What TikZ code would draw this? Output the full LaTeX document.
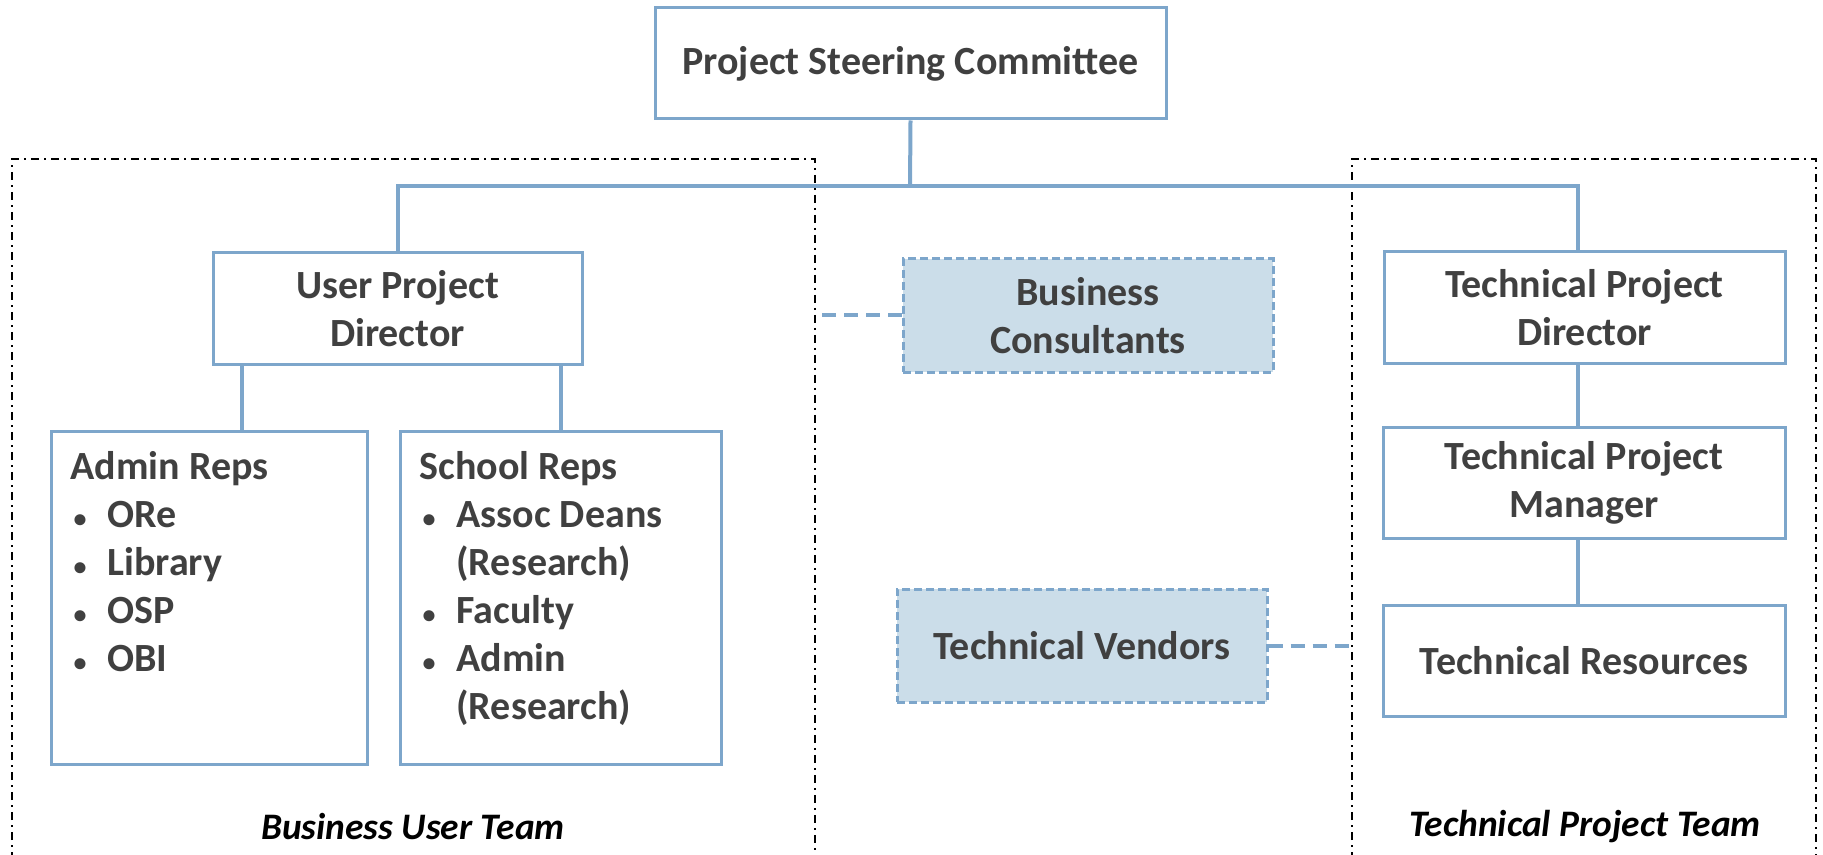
\documentclass[tikz,border=0pt]{standalone}
\usepackage{fontspec}
\setmainfont{Carlito}
\usetikzlibrary{positioning}
\definecolor{boxblue}{RGB}{125,166,203}
\definecolor{fillblue}{RGB}{203,221,233}
\definecolor{txtgray}{RGB}{64,64,64}
\newcommand{\orgfont}{\bfseries\fontsize{20}{24}\selectfont}
\newcommand{\repitem}[1]{\par\hangindent=18.5pt\hangafter=1\noindent\makebox[18.5pt][l]{\hspace{1.5pt}\scalebox{0.65}{\textbullet}}#1}
\tikzset{
  orgbox/.style={draw=boxblue, line width=1.5pt, fill=white, align=center,
    text=txtgray, font=\orgfont, inner sep=0pt},
  extbox/.style={orgbox, fill=fillblue, dash pattern=on 4pt off 2pt},
  repbox/.style={orgbox, anchor=north west, inner xsep=9.5pt, inner ysep=10pt},
  link/.style={draw=boxblue, line width=2pt},
  extlink/.style={link, dash pattern=on 7pt off 4pt},
  teamframe/.style={black, line width=0.75pt, dash pattern=on 4pt off 2.5pt on 1pt off 2.5pt},
  teamlabel/.style={font=\bfseries\itshape\fontsize{18.7}{22}\selectfont}
}
\begin{document}
\begin{tikzpicture}[x=0.5pt, y=-0.5pt]
  \useasboundingbox (0,0) rectangle (1823,855);
  % team frames (open at the bottom)
  \coordinate (bizne) at (815,159);
  \coordinate (technw) at (1352,159);
  \draw[teamframe] (12,880) |- (bizne) -- (815,880);
  \draw[teamframe] (technw |- 0,880) -- (technw) -| (1816,880);
  \node[teamlabel] (bizteam) at (413,827) {Business User Team};
  \node[teamlabel] (techteam) at (1585,827) {Technical Project Team};
  % boxes
  \node[orgbox, minimum width=255.5pt, minimum height=55.5pt] (psc) at (910.5,63.5) {Project Steering Committee};
  \node[orgbox, minimum width=184.5pt, minimum height=55.5pt] (upd) at (397.5,308.5) {User Project\\Director};
  \node[extbox, minimum width=185pt, minimum height=56.5pt] (bc) at (1088,315.5) {Business\\Consultants};
  \node[extbox, minimum width=185pt, minimum height=56.5pt] (tv) at (1082,645.5) {Technical Vendors};
  \node[orgbox, minimum width=200.5pt, minimum height=55.5pt] (tpd) at (1584.5,307.5) {Technical Project\\Director};
  \node[orgbox, minimum width=201pt, minimum height=55.5pt] (tpm) at (1584,482.5) {Technical Project\\Manager};
  \node[orgbox, minimum width=201pt, minimum height=55.5pt] (tr) at (1584,660.5) {Technical Resources};
  \node[repbox] (admin) at (50,430) {%
    \begin{minipage}[t][146.5pt][t]{139pt}\raggedright
      Admin Reps
      \repitem{ORe}
      \repitem{Library}
      \repitem{OSP}
      \repitem{OBI}
    \end{minipage}};
  \node[repbox] (school) at (399,430) {%
    \begin{minipage}[t][146.5pt][t]{141.5pt}\raggedright
      School Reps
      \repitem{Assoc Deans\newline(Research)}
      \repitem{Faculty}
      \repitem{Admin\newline(Research)}
    \end{minipage}};
  % connectors
  \coordinate (bus) at (910,186);
  \draw[link] (psc.south) -- (bus);
  \draw[link] (upd.north) -- (upd.north |- bus) -- ([xshift=-3.5pt]tpd.north |- bus) -- ([xshift=-3.5pt]tpd.north);
  \draw[link] ([xshift=16pt]admin.north) -- ([xshift=16pt]admin.north |- upd.south);
  \draw[link] (school.north) -- (school.north |- upd.south);
  \draw[link] ([xshift=-3.5pt]tpd.south) -- ([xshift=-3.5pt]tpd.south |- tpm.north);
  \draw[link] ([xshift=-3pt]tpm.south) -- ([xshift=-3pt]tr.north);
  \draw[extlink] (bc.west) -- (bc.west -| bizne);
  \draw[extlink] (tv.east) -- (tv.east -| technw);
\end{tikzpicture}
\end{document}
